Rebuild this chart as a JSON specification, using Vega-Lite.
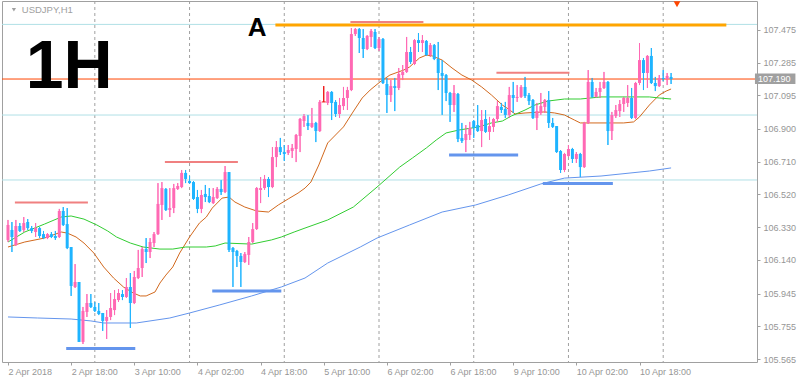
{
"$schema": "https://vega.github.io/schema/vega-lite/v6.json",
"width": 755, "height": 361,
"autosize": {"type": "none"},
"padding": {"left": 2, "top": 1, "right": 42, "bottom": 24},
"background": "white",
"config": {"view": {"stroke": "#a0a0a0", "strokeWidth": 1}, "axis": {"labelOverlap": false, "labelFlush": false, "labelBound": false, "grid": false, "domain": false}},
"datasets": {
"candles": [
{"i":0,"o":106.256,"h":106.372,"l":106.244,"c":106.343},
{"i":1,"o":106.314,"h":106.360,"l":106.186,"c":106.273},
{"i":2,"o":106.227,"h":106.372,"l":106.221,"c":106.337},
{"i":3,"o":106.337,"h":106.354,"l":106.302,"c":106.308},
{"i":4,"o":106.314,"h":106.389,"l":106.302,"c":106.354},
{"i":5,"o":106.360,"h":106.377,"l":106.314,"c":106.325},
{"i":6,"o":106.325,"h":106.337,"l":106.296,"c":106.308},
{"i":7,"o":106.302,"h":106.354,"l":106.273,"c":106.325},
{"i":8,"o":106.325,"h":106.331,"l":106.267,"c":106.279},
{"i":9,"o":106.290,"h":106.308,"l":106.261,"c":106.267},
{"i":10,"o":106.267,"h":106.296,"l":106.261,"c":106.290},
{"i":11,"o":106.290,"h":106.302,"l":106.267,"c":106.273},
{"i":12,"o":106.279,"h":106.308,"l":106.256,"c":106.267},
{"i":13,"o":106.273,"h":106.436,"l":106.267,"c":106.424},
{"i":14,"o":106.424,"h":106.447,"l":106.337,"c":106.343},
{"i":15,"o":106.348,"h":106.441,"l":106.203,"c":106.209},
{"i":16,"o":106.215,"h":106.215,"l":105.931,"c":105.989},
{"i":17,"o":105.983,"h":106.116,"l":105.977,"c":106.012},
{"i":18,"o":106.012,"h":106.012,"l":105.664,"c":105.664},
{"i":19,"o":105.664,"h":105.867,"l":105.652,"c":105.844},
{"i":20,"o":105.838,"h":105.942,"l":105.809,"c":105.890},
{"i":21,"o":105.890,"h":105.942,"l":105.861,"c":105.867},
{"i":22,"o":105.867,"h":105.896,"l":105.838,"c":105.844},
{"i":23,"o":105.844,"h":105.890,"l":105.820,"c":105.826},
{"i":24,"o":105.832,"h":105.832,"l":105.728,"c":105.786},
{"i":25,"o":105.786,"h":105.849,"l":105.681,"c":105.809},
{"i":26,"o":105.809,"h":105.948,"l":105.791,"c":105.861},
{"i":27,"o":105.849,"h":105.965,"l":105.820,"c":105.913},
{"i":28,"o":105.907,"h":105.971,"l":105.896,"c":105.948},
{"i":29,"o":105.942,"h":105.965,"l":105.907,"c":105.925},
{"i":30,"o":105.925,"h":106.035,"l":105.919,"c":105.983},
{"i":31,"o":105.983,"h":106.064,"l":105.745,"c":105.890},
{"i":32,"o":105.890,"h":106.076,"l":105.884,"c":106.041},
{"i":33,"o":106.035,"h":106.198,"l":106.029,"c":106.093},
{"i":34,"o":106.093,"h":106.215,"l":106.041,"c":106.203},
{"i":35,"o":106.203,"h":106.267,"l":106.122,"c":106.186},
{"i":36,"o":106.186,"h":106.267,"l":106.151,"c":106.244},
{"i":37,"o":106.238,"h":106.302,"l":106.215,"c":106.290},
{"i":38,"o":106.290,"h":106.586,"l":106.285,"c":106.465},
{"i":39,"o":106.459,"h":106.592,"l":106.372,"c":106.557},
{"i":40,"o":106.552,"h":106.557,"l":106.424,"c":106.430},
{"i":41,"o":106.430,"h":106.557,"l":106.389,"c":106.441},
{"i":42,"o":106.441,"h":106.581,"l":106.412,"c":106.557},
{"i":43,"o":106.552,"h":106.586,"l":106.546,"c":106.569},
{"i":44,"o":106.563,"h":106.662,"l":106.557,"c":106.645},
{"i":45,"o":106.645,"h":106.662,"l":106.586,"c":106.610},
{"i":46,"o":106.598,"h":106.627,"l":106.581,"c":106.586},
{"i":47,"o":106.592,"h":106.598,"l":106.488,"c":106.494},
{"i":48,"o":106.505,"h":106.546,"l":106.412,"c":106.436},
{"i":49,"o":106.436,"h":106.546,"l":106.412,"c":106.517},
{"i":50,"o":106.523,"h":106.575,"l":106.476,"c":106.505},
{"i":51,"o":106.511,"h":106.557,"l":106.470,"c":106.476},
{"i":52,"o":106.470,"h":106.557,"l":106.465,"c":106.505},
{"i":53,"o":106.499,"h":106.563,"l":106.494,"c":106.552},
{"i":54,"o":106.552,"h":106.604,"l":106.517,"c":106.534},
{"i":55,"o":106.534,"h":106.685,"l":106.528,"c":106.650},
{"i":56,"o":106.650,"h":106.650,"l":106.186,"c":106.198},
{"i":57,"o":106.209,"h":106.215,"l":105.983,"c":106.186},
{"i":58,"o":106.192,"h":106.198,"l":106.099,"c":106.163},
{"i":59,"o":106.163,"h":106.180,"l":105.983,"c":106.128},
{"i":60,"o":106.128,"h":106.186,"l":106.122,"c":106.174},
{"i":61,"o":106.169,"h":106.273,"l":106.111,"c":106.244},
{"i":62,"o":106.244,"h":106.354,"l":106.238,"c":106.319},
{"i":63,"o":106.319,"h":106.563,"l":106.314,"c":106.557},
{"i":64,"o":106.546,"h":106.621,"l":106.470,"c":106.557},
{"i":65,"o":106.557,"h":106.633,"l":106.546,"c":106.610},
{"i":66,"o":106.610,"h":106.621,"l":106.505,"c":106.563},
{"i":67,"o":106.563,"h":106.795,"l":106.557,"c":106.737},
{"i":68,"o":106.737,"h":106.830,"l":106.679,"c":106.795},
{"i":69,"o":106.795,"h":106.848,"l":106.749,"c":106.766},
{"i":70,"o":106.766,"h":106.807,"l":106.714,"c":106.755},
{"i":71,"o":106.761,"h":106.807,"l":106.749,"c":106.778},
{"i":72,"o":106.772,"h":106.813,"l":106.732,"c":106.790},
{"i":73,"o":106.784,"h":106.871,"l":106.708,"c":106.865},
{"i":74,"o":106.859,"h":106.964,"l":106.766,"c":106.958},
{"i":75,"o":106.946,"h":106.987,"l":106.912,"c":106.975},
{"i":76,"o":106.935,"h":106.981,"l":106.894,"c":106.917},
{"i":77,"o":106.912,"h":107.022,"l":106.906,"c":106.935},
{"i":78,"o":106.935,"h":106.941,"l":106.824,"c":106.888},
{"i":79,"o":106.888,"h":107.068,"l":106.883,"c":107.057},
{"i":80,"o":107.057,"h":107.149,"l":107.057,"c":107.057},
{"i":81,"o":107.051,"h":107.120,"l":107.039,"c":107.115},
{"i":82,"o":107.115,"h":107.120,"l":106.952,"c":107.051},
{"i":83,"o":107.057,"h":107.068,"l":106.970,"c":106.987},
{"i":84,"o":106.987,"h":107.080,"l":106.964,"c":107.039},
{"i":85,"o":107.033,"h":107.144,"l":107.010,"c":107.080},
{"i":86,"o":107.080,"h":107.144,"l":107.010,"c":107.126},
{"i":87,"o":107.126,"h":107.486,"l":107.120,"c":107.451},
{"i":88,"o":107.451,"h":107.486,"l":107.440,"c":107.480},
{"i":89,"o":107.480,"h":107.486,"l":107.341,"c":107.428},
{"i":90,"o":107.428,"h":107.480,"l":107.312,"c":107.364},
{"i":91,"o":107.364,"h":107.445,"l":107.358,"c":107.440},
{"i":92,"o":107.434,"h":107.480,"l":107.376,"c":107.469},
{"i":93,"o":107.463,"h":107.480,"l":107.364,"c":107.370},
{"i":94,"o":107.370,"h":107.434,"l":107.353,"c":107.422},
{"i":95,"o":107.422,"h":107.428,"l":107.161,"c":107.167},
{"i":96,"o":107.161,"h":107.196,"l":106.993,"c":107.097},
{"i":97,"o":107.097,"h":107.184,"l":107.057,"c":107.149},
{"i":98,"o":107.149,"h":107.196,"l":107.004,"c":107.138},
{"i":99,"o":107.138,"h":107.254,"l":107.126,"c":107.219},
{"i":100,"o":107.213,"h":107.271,"l":107.184,"c":107.231},
{"i":101,"o":107.231,"h":107.434,"l":107.225,"c":107.347},
{"i":102,"o":107.347,"h":107.376,"l":107.277,"c":107.289},
{"i":103,"o":107.277,"h":107.422,"l":107.271,"c":107.416},
{"i":104,"o":107.416,"h":107.457,"l":107.347,"c":107.399},
{"i":105,"o":107.399,"h":107.445,"l":107.347,"c":107.416},
{"i":106,"o":107.411,"h":107.416,"l":107.324,"c":107.329},
{"i":107,"o":107.329,"h":107.399,"l":107.318,"c":107.387},
{"i":108,"o":107.387,"h":107.393,"l":107.300,"c":107.306},
{"i":109,"o":107.306,"h":107.405,"l":107.126,"c":107.225},
{"i":110,"o":107.225,"h":107.300,"l":106.981,"c":107.208},
{"i":111,"o":107.213,"h":107.219,"l":107.062,"c":107.109},
{"i":112,"o":107.109,"h":107.115,"l":106.941,"c":107.039},
{"i":113,"o":107.039,"h":107.155,"l":106.999,"c":107.109},
{"i":114,"o":107.103,"h":107.109,"l":106.824,"c":106.842},
{"i":115,"o":106.848,"h":106.935,"l":106.819,"c":106.830},
{"i":116,"o":106.836,"h":106.923,"l":106.766,"c":106.871},
{"i":117,"o":106.865,"h":106.941,"l":106.836,"c":106.906},
{"i":118,"o":106.946,"h":106.952,"l":106.848,"c":106.906},
{"i":119,"o":106.923,"h":107.039,"l":106.883,"c":106.888},
{"i":120,"o":106.888,"h":107.010,"l":106.795,"c":106.952},
{"i":121,"o":106.958,"h":107.010,"l":106.877,"c":106.883},
{"i":122,"o":106.883,"h":106.970,"l":106.836,"c":106.917},
{"i":123,"o":106.912,"h":106.964,"l":106.883,"c":106.958},
{"i":124,"o":106.958,"h":107.062,"l":106.941,"c":107.033},
{"i":125,"o":107.028,"h":107.051,"l":106.993,"c":107.010},
{"i":126,"o":107.016,"h":107.057,"l":106.964,"c":106.981},
{"i":127,"o":106.981,"h":107.144,"l":106.964,"c":107.097},
{"i":128,"o":107.097,"h":107.173,"l":106.993,"c":107.080},
{"i":129,"o":107.080,"h":107.155,"l":107.057,"c":107.086},
{"i":130,"o":107.086,"h":107.155,"l":107.080,"c":107.144},
{"i":131,"o":107.144,"h":107.202,"l":107.080,"c":107.091},
{"i":132,"o":107.097,"h":107.109,"l":107.039,"c":107.062},
{"i":133,"o":107.068,"h":107.074,"l":106.958,"c":106.964},
{"i":134,"o":106.964,"h":107.051,"l":106.894,"c":107.004},
{"i":135,"o":106.993,"h":107.109,"l":106.981,"c":107.033},
{"i":136,"o":107.028,"h":107.074,"l":106.993,"c":107.068},
{"i":137,"o":107.068,"h":107.120,"l":106.906,"c":106.935},
{"i":138,"o":106.935,"h":106.964,"l":106.906,"c":106.912},
{"i":139,"o":106.917,"h":106.917,"l":106.761,"c":106.766},
{"i":140,"o":106.772,"h":106.778,"l":106.645,"c":106.662},
{"i":141,"o":106.662,"h":106.761,"l":106.650,"c":106.755},
{"i":142,"o":106.743,"h":106.807,"l":106.737,"c":106.784},
{"i":143,"o":106.784,"h":106.790,"l":106.703,"c":106.726},
{"i":144,"o":106.726,"h":106.766,"l":106.703,"c":106.755},
{"i":145,"o":106.755,"h":106.761,"l":106.621,"c":106.679},
{"i":146,"o":106.679,"h":106.941,"l":106.674,"c":106.935},
{"i":147,"o":106.935,"h":107.242,"l":106.929,"c":107.173},
{"i":148,"o":107.173,"h":107.196,"l":107.080,"c":107.086},
{"i":149,"o":107.086,"h":107.138,"l":107.080,"c":107.115},
{"i":150,"o":107.115,"h":107.173,"l":107.080,"c":107.138},
{"i":151,"o":107.138,"h":107.231,"l":107.132,"c":107.173},
{"i":152,"o":107.173,"h":107.178,"l":106.807,"c":106.888},
{"i":153,"o":106.888,"h":106.999,"l":106.836,"c":106.981},
{"i":154,"o":106.975,"h":107.039,"l":106.964,"c":107.010},
{"i":155,"o":107.004,"h":107.068,"l":106.970,"c":107.045},
{"i":156,"o":107.045,"h":107.086,"l":106.999,"c":107.080},
{"i":157,"o":107.051,"h":107.155,"l":107.028,"c":107.080},
{"i":158,"o":107.080,"h":107.138,"l":106.958,"c":106.964},
{"i":159,"o":106.964,"h":107.173,"l":106.958,"c":107.167},
{"i":160,"o":107.167,"h":107.399,"l":107.155,"c":107.300},
{"i":161,"o":107.300,"h":107.312,"l":107.126,"c":107.225},
{"i":162,"o":107.225,"h":107.329,"l":107.138,"c":107.324},
{"i":163,"o":107.324,"h":107.370,"l":107.161,"c":107.167},
{"i":164,"o":107.167,"h":107.202,"l":107.120,"c":107.149},
{"i":165,"o":107.149,"h":107.213,"l":107.144,"c":107.196},
{"i":166,"o":107.196,"h":107.242,"l":107.178,"c":107.190},
{"i":167,"o":107.190,"h":107.225,"l":107.155,"c":107.208},
{"i":168,"o":107.202,"h":107.225,"l":107.161,"c":107.190}
],
"ma": [
{"i":0,"v":106.215,"m":"f"},{"i":4.25,"v":106.244,"m":"f"},{"i":9.25,"v":106.267,"m":"f"},{"i":13.5,"v":106.302,"m":"f"},{"i":15,"v":106.296,"m":"f"},{"i":17.25,"v":106.273,"m":"f"},{"i":19.25,"v":106.238,"m":"f"},{"i":21.75,"v":106.180,"m":"f"},{"i":24.25,"v":106.099,"m":"f"},{"i":26.75,"v":106.035,"m":"f"},{"i":29.25,"v":105.983,"m":"f"},{"i":31.75,"v":105.948,"m":"f"},{"i":33.5,"v":105.931,"m":"f"},{"i":35,"v":105.931,"m":"f"},{"i":37.25,"v":105.954,"m":"f"},{"i":38.5,"v":106.006,"m":"f"},{"i":40,"v":106.052,"m":"f"},{"i":41.75,"v":106.099,"m":"f"},{"i":43.5,"v":106.180,"m":"f"},{"i":46,"v":106.273,"m":"f"},{"i":48.5,"v":106.354,"m":"f"},{"i":50.25,"v":106.389,"m":"f"},{"i":51.75,"v":106.441,"m":"f"},{"i":54.25,"v":106.499,"m":"f"},{"i":56,"v":106.505,"m":"f"},{"i":57.5,"v":106.476,"m":"f"},{"i":60,"v":106.447,"m":"f"},{"i":63,"v":106.424,"m":"f"},{"i":66,"v":106.418,"m":"f"},{"i":68.5,"v":106.459,"m":"f"},{"i":71,"v":106.494,"m":"f"},{"i":73.5,"v":106.528,"m":"f"},{"i":75.25,"v":106.557,"m":"f"},{"i":76.75,"v":106.592,"m":"f"},{"i":78.75,"v":106.691,"m":"f"},{"i":81,"v":106.819,"m":"f"},{"i":85,"v":106.912,"m":"f"},{"i":87.25,"v":106.993,"m":"f"},{"i":89.75,"v":107.080,"m":"f"},{"i":91.75,"v":107.126,"m":"f"},{"i":94.25,"v":107.173,"m":"f"},{"i":96.75,"v":107.213,"m":"f"},{"i":100.25,"v":107.242,"m":"f"},{"i":101.75,"v":107.260,"m":"f"},{"i":104.25,"v":107.312,"m":"f"},{"i":106,"v":107.329,"m":"f"},{"i":107.5,"v":107.324,"m":"f"},{"i":110,"v":107.300,"m":"f"},{"i":112.5,"v":107.254,"m":"f"},{"i":115,"v":107.213,"m":"f"},{"i":117.5,"v":107.184,"m":"f"},{"i":120,"v":107.144,"m":"f"},{"i":122.5,"v":107.097,"m":"f"},{"i":125.25,"v":107.039,"m":"f"},{"i":126.75,"v":107.016,"m":"f"},{"i":128.5,"v":106.987,"m":"f"},{"i":131,"v":106.993,"m":"f"},{"i":136,"v":106.999,"m":"f"},{"i":138.5,"v":106.993,"m":"f"},{"i":141,"v":106.981,"m":"f"},{"i":143.5,"v":106.952,"m":"f"},{"i":145,"v":106.935,"m":"f"},{"i":156,"v":106.935,"m":"f"},{"i":158.5,"v":106.941,"m":"f"},{"i":160,"v":106.970,"m":"f"},{"i":162.5,"v":107.039,"m":"f"},{"i":165,"v":107.097,"m":"f"},{"i":166.75,"v":107.120,"m":"f"},{"i":168,"v":107.132,"m":"f"},
{"i":0,"v":106.244,"m":"s"},{"i":4.25,"v":106.302,"m":"s"},{"i":9.25,"v":106.348,"m":"s"},{"i":13.5,"v":106.389,"m":"s"},{"i":16,"v":106.395,"m":"s"},{"i":19.25,"v":106.377,"m":"s"},{"i":22.5,"v":106.343,"m":"s"},{"i":25.25,"v":106.308,"m":"s"},{"i":27.5,"v":106.273,"m":"s"},{"i":31,"v":106.238,"m":"s"},{"i":34.25,"v":106.215,"m":"s"},{"i":38.5,"v":106.203,"m":"s"},{"i":41.75,"v":106.203,"m":"s"},{"i":45,"v":106.215,"m":"s"},{"i":50.25,"v":106.215,"m":"s"},{"i":52.5,"v":106.221,"m":"s"},{"i":55,"v":106.238,"m":"s"},{"i":61.75,"v":106.232,"m":"s"},{"i":66.75,"v":106.256,"m":"s"},{"i":69.25,"v":106.273,"m":"s"},{"i":72.5,"v":106.302,"m":"s"},{"i":75.25,"v":106.325,"m":"s"},{"i":81,"v":106.372,"m":"s"},{"i":87.5,"v":106.447,"m":"s"},{"i":93.5,"v":106.563,"m":"s"},{"i":99.25,"v":106.679,"m":"s"},{"i":102.5,"v":106.732,"m":"s"},{"i":106,"v":106.790,"m":"s"},{"i":108.5,"v":106.836,"m":"s"},{"i":111,"v":106.877,"m":"s"},{"i":114.25,"v":106.894,"m":"s"},{"i":119.25,"v":106.912,"m":"s"},{"i":122.5,"v":106.935,"m":"s"},{"i":125.25,"v":106.946,"m":"s"},{"i":127.5,"v":106.975,"m":"s"},{"i":131,"v":107.010,"m":"s"},{"i":133.5,"v":107.039,"m":"s"},{"i":136.75,"v":107.062,"m":"s"},{"i":141,"v":107.074,"m":"s"},{"i":145,"v":107.074,"m":"s"},{"i":150.25,"v":107.086,"m":"s"},{"i":162.5,"v":107.086,"m":"s"},{"i":165,"v":107.080,"m":"s"},{"i":168,"v":107.074,"m":"s"},
{"i":0,"v":105.809,"m":"l"},{"i":7.5,"v":105.803,"m":"l"},{"i":16,"v":105.797,"m":"l"},{"i":21,"v":105.786,"m":"l"},{"i":24.25,"v":105.774,"m":"l"},{"i":32.5,"v":105.774,"m":"l"},{"i":41,"v":105.803,"m":"l"},{"i":46,"v":105.832,"m":"l"},{"i":53.5,"v":105.878,"m":"l"},{"i":61.75,"v":105.931,"m":"l"},{"i":69.25,"v":105.983,"m":"l"},{"i":75.25,"v":106.035,"m":"l"},{"i":81,"v":106.122,"m":"l"},{"i":89.25,"v":106.215,"m":"l"},{"i":93.5,"v":106.267,"m":"l"},{"i":101.75,"v":106.343,"m":"l"},{"i":110,"v":106.418,"m":"l"},{"i":118.5,"v":106.459,"m":"l"},{"i":126.75,"v":106.517,"m":"l"},{"i":135,"v":106.581,"m":"l"},{"i":141,"v":106.615,"m":"l"},{"i":150.25,"v":106.627,"m":"l"},{"i":162.5,"v":106.656,"m":"l"},{"i":168,"v":106.674,"m":"l"}
],
"levels": [
{"a":1.75,"b":20.25,"v":106.473,"k":"pink"},{"a":39.75,"b":58.25,"v":106.708,"k":"pink"},{"a":86.75,"b":105.25,"v":107.521,"k":"pink"},{"a":123.75,"b":142.25,"v":107.227,"k":"pink"},
{"a":14.75,"b":32.25,"v":105.626,"k":"blue"},{"a":51.75,"b":69.25,"v":105.960,"k":"blue"},{"a":111.75,"b":129.25,"v":106.749,"k":"blue"},{"a":135.5,"b":153.25,"v":106.583,"k":"blue"},
{"a":67.75,"b":182,"v":107.503,"k":"orange"}
]
},
"layer": [
{"data": {"name": "candles"},
 "mark": {"type": "rule", "strokeWidth": 1},
 "encoding": {
  "x": {"field": "i", "type": "quantitative", "title": null, "scale": {"domain": [-0.25, 188.5], "nice": false, "zero": false},
        "axis": {"values": [0,16,32,48,64,80,96,112,128,144,160], "tickCount": 40, "labelExpr": "['2 Apr 2018','2 Apr 18:00','3 Apr 10:00','4 Apr 02:00','4 Apr 18:00','5 Apr 10:00','6 Apr 02:00','6 Apr 18:00','9 Apr 10:00','10 Apr 02:00','10 Apr 18:00'][round(datum.value/16)]",
                 "labelAlign": "left", "labelBaseline": "top", "labelPadding": 2, "labelDx": -1, "labelColor": "#969696", "labelFont": "Liberation Sans", "labelFontSize": 9,
                 "tickColor": "#a0a0a0", "tickSize": 3, "domain": false, "grid": false, "title": null, "labelOverlap": false, "labelFlush": false, "labelBound": false}},
  "y": {"field": "l", "type": "quantitative", "title": null, "scale": {"domain": [105.5476, 107.6428], "nice": false, "zero": false},
        "axis": {"orient": "right", "values": [105.565,105.755,105.945,106.14,106.33,106.52,106.71,106.9,107.095,107.285,107.475], "tickCount": 40, "format": ".3f",
                 "labelColor": "#969696", "labelFont": "Liberation Sans", "labelFontSize": 9, "labelPadding": 3, "labelBaseline": "middle",
                 "tickColor": "#a0a0a0", "tickSize": 3, "domain": false, "grid": false, "title": null, "labelOverlap": false, "labelFlush": false, "labelBound": false}},
  "y2": {"field": "h"},
  "color": {"condition": [{"test": "datum.c == datum.o", "value": "#ee1111"}, {"test": "datum.c > datum.o", "value": "#ff69b4"}], "value": "#1eb4ff"}}},
{"data": {"values": [{"i":22},{"i":46},{"i":70},{"i":94},{"i":118},{"i":142},{"i":166}]},
 "mark": {"type": "rule", "color": "#a0a0a0", "strokeWidth": 1, "strokeDash": [3, 3]},
 "encoding": {"x": {"field": "i", "type": "quantitative", "title": null, "scale": {"domain": [-0.25, 188.5], "nice": false, "zero": false}}}},
{"data": {"values": [{"v":107.507},{"v":106.981},{"v":106.604}]},
 "mark": {"type": "rule", "color": "#b0e0e6", "strokeWidth": 1},
 "encoding": {"y": {"field": "v", "type": "quantitative", "title": null, "scale": {"domain": [105.5476, 107.6428], "nice": false, "zero": false}}}},
{"data": {"values": [{"v":107.19}]},
 "mark": {"type": "rule", "color": "#ff4500", "strokeWidth": 1},
 "encoding": {"y": {"field": "v", "type": "quantitative", "title": null, "scale": {"domain": [105.5476, 107.6428], "nice": false, "zero": false}}}},
{"data": {"name": "ma"},
 "mark": {"type": "line", "strokeWidth": 1, "interpolate": "linear"},
 "encoding": {
  "x": {"field": "i", "type": "quantitative", "title": null, "scale": {"domain": [-0.25, 188.5], "nice": false, "zero": false}},
  "y": {"field": "v", "type": "quantitative", "title": null, "scale": {"domain": [105.5476, 107.6428], "nice": false, "zero": false}},
  "color": {"field": "m", "type": "nominal", "scale": {"domain": ["f", "s", "l"], "range": ["#d2691e", "#32cd32", "#6495ed"]}, "legend": null}}},
{"data": {"name": "candles"},
 "mark": {"type": "rule", "strokeWidth": 1},
 "encoding": {
  "x": {"field": "i", "type": "quantitative", "title": null, "scale": {"domain": [-0.25, 188.5], "nice": false, "zero": false}},
  "y": {"field": "l", "type": "quantitative", "title": null, "scale": {"domain": [105.5476, 107.6428], "nice": false, "zero": false}},
  "y2": {"field": "h"},
  "color": {"condition": [{"test": "datum.c == datum.o", "value": "#ee1111"}, {"test": "datum.c > datum.o", "value": "#ff69b4"}], "value": "#1eb4ff"}}},
{"data": {"name": "candles"},
 "mark": {"type": "bar", "width": 3},
 "encoding": {
  "x": {"field": "i", "type": "quantitative", "title": null, "scale": {"domain": [-0.25, 188.5], "nice": false, "zero": false}},
  "y": {"field": "o", "type": "quantitative", "title": null, "scale": {"domain": [105.5476, 107.6428], "nice": false, "zero": false}},
  "y2": {"field": "c"},
  "color": {"condition": [{"test": "datum.c > datum.o", "value": "#ff69b4"}], "value": "#1eb4ff"}}},
{"data": {"name": "candles"},
 "transform": [{"filter": "datum.c == datum.o"}],
 "mark": {"type": "point", "shape": "M-1,0L1,0", "filled": false, "stroke": "#ee1111", "strokeWidth": 1, "size": 16, "opacity": 1},
 "encoding": {
  "x": {"field": "i", "type": "quantitative", "title": null, "scale": {"domain": [-0.25, 188.5], "nice": false, "zero": false}},
  "y": {"field": "c", "type": "quantitative", "title": null, "scale": {"domain": [105.5476, 107.6428], "nice": false, "zero": false}}}},
{"data": {"name": "levels"},
 "transform": [{"filter": "datum.k == 'pink'"}],
 "mark": {"type": "rule", "color": "#f08080", "strokeWidth": 2},
 "encoding": {
  "x": {"field": "a", "type": "quantitative", "title": null, "scale": {"domain": [-0.25, 188.5], "nice": false, "zero": false}},
  "x2": {"field": "b"},
  "y": {"field": "v", "type": "quantitative", "title": null, "scale": {"domain": [105.5476, 107.6428], "nice": false, "zero": false}}}},
{"data": {"name": "levels"},
 "transform": [{"filter": "datum.k == 'blue'"}],
 "mark": {"type": "rule", "color": "#6495ed", "strokeWidth": 3},
 "encoding": {
  "x": {"field": "a", "type": "quantitative", "title": null, "scale": {"domain": [-0.25, 188.5], "nice": false, "zero": false}},
  "x2": {"field": "b"},
  "y": {"field": "v", "type": "quantitative", "title": null, "scale": {"domain": [105.5476, 107.6428], "nice": false, "zero": false}}}},
{"data": {"name": "levels"},
 "transform": [{"filter": "datum.k == 'orange'"}],
 "mark": {"type": "rule", "color": "#ffa500", "strokeWidth": 3},
 "encoding": {
  "x": {"field": "a", "type": "quantitative", "title": null, "scale": {"domain": [-0.25, 188.5], "nice": false, "zero": false}},
  "x2": {"field": "b"},
  "y": {"field": "v", "type": "quantitative", "title": null, "scale": {"domain": [105.5476, 107.6428], "nice": false, "zero": false}}}},
{"data": {"values": [{}]},
 "mark": {"type": "text", "text": "1H", "font": "Liberation Sans", "fontWeight": "bold", "fontSize": 68, "align": "left", "baseline": "alphabetic", "color": "#000000"},
 "encoding": {
  "x": {"datum": 4.5, "type": "quantitative", "title": null, "scale": {"domain": [-0.25, 188.5], "nice": false, "zero": false}},
  "y": {"datum": 107.138, "type": "quantitative", "title": null, "scale": {"domain": [105.5476, 107.6428], "nice": false, "zero": false}}}},
{"data": {"values": [{}]},
 "mark": {"type": "text", "text": "A", "font": "Liberation Sans", "fontWeight": "bold", "fontSize": 26, "align": "left", "baseline": "alphabetic", "color": "#000000"},
 "encoding": {
  "x": {"datum": 60.75, "type": "quantitative", "title": null, "scale": {"domain": [-0.25, 188.5], "nice": false, "zero": false}},
  "y": {"datum": 107.437, "type": "quantitative", "title": null, "scale": {"domain": [105.5476, 107.6428], "nice": false, "zero": false}}}},
{"data": {"values": [{}]},
 "mark": {"type": "text", "text": "USDJPY,H1", "font": "Liberation Sans", "fontSize": 9.5, "align": "left", "baseline": "alphabetic", "color": "#a0a0a0"},
 "encoding": {
  "x": {"datum": 3.5, "type": "quantitative", "title": null, "scale": {"domain": [-0.25, 188.5], "nice": false, "zero": false}},
  "y": {"datum": 107.573, "type": "quantitative", "title": null, "scale": {"domain": [105.5476, 107.6428], "nice": false, "zero": false}}}},
{"data": {"values": [{}]},
 "mark": {"type": "point", "shape": "triangle-down", "filled": true, "color": "#a0a0a0", "size": 18, "opacity": 1},
 "encoding": {
  "x": {"datum": 1.5, "type": "quantitative", "title": null, "scale": {"domain": [-0.25, 188.5], "nice": false, "zero": false}},
  "y": {"datum": 107.592, "type": "quantitative", "title": null, "scale": {"domain": [105.5476, 107.6428], "nice": false, "zero": false}}}},
{"data": {"values": [{}]},
 "mark": {"type": "point", "shape": "triangle-down", "filled": true, "color": "#ff4500", "size": 45, "opacity": 1},
 "encoding": {
  "x": {"datum": 169.5, "type": "quantitative", "title": null, "scale": {"domain": [-0.25, 188.5], "nice": false, "zero": false}},
  "y": {"datum": 107.624, "type": "quantitative", "title": null, "scale": {"domain": [105.5476, 107.6428], "nice": false, "zero": false}}}},
{"data": {"values": [{}]},
 "mark": {"type": "rect", "color": "#a0a0a0"},
 "encoding": {
  "x": {"datum": 189.25, "type": "quantitative", "title": null, "scale": {"domain": [-0.25, 188.5], "nice": false, "zero": false}},
  "x2": {"datum": 199.5},
  "y": {"datum": 107.222, "type": "quantitative", "title": null, "scale": {"domain": [105.5476, 107.6428], "nice": false, "zero": false}},
  "y2": {"datum": 107.161}}},
{"data": {"values": [{}]},
 "mark": {"type": "text", "text": "107.190", "font": "Liberation Sans", "fontSize": 9, "align": "left", "baseline": "middle", "color": "#ffffff"},
 "encoding": {
  "x": {"datum": 190, "type": "quantitative", "title": null, "scale": {"domain": [-0.25, 188.5], "nice": false, "zero": false}},
  "y": {"datum": 107.19, "type": "quantitative", "title": null, "scale": {"domain": [105.5476, 107.6428], "nice": false, "zero": false}}}}
]
}
